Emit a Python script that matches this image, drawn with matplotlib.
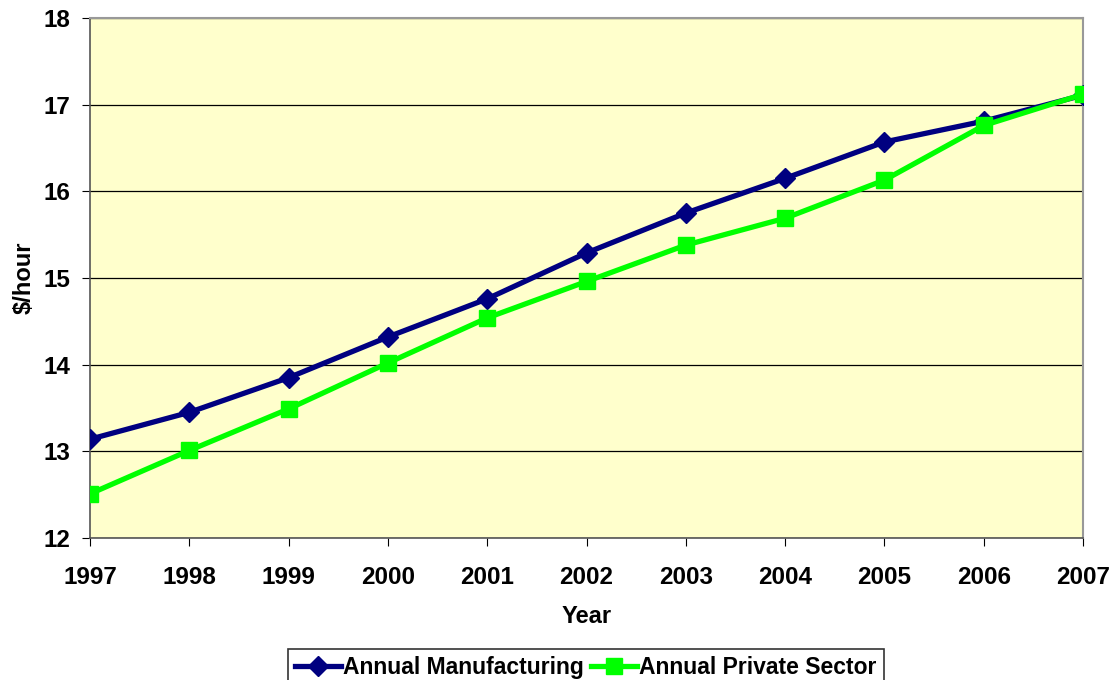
import matplotlib.pyplot as plt
import numpy as np

plt.rcParams['font.family'] = ['Liberation Sans', 'DejaVu Sans']
plt.rcParams['font.weight'] = 'bold'

years = [1997, 1998, 1999, 2000, 2001, 2002, 2003, 2004, 2005, 2006, 2007]
manufacturing = [13.14, 13.45, 13.85, 14.32, 14.76, 15.29, 15.75, 16.15, 16.57, 16.81, 17.11]
private_sector = [12.51, 13.01, 13.49, 14.02, 14.54, 14.96, 15.38, 15.69, 16.13, 16.76, 17.12]

fig = plt.figure(figsize=(11.14, 6.8), dpi=100)
ax = fig.add_axes([0.0808, 0.2088, 0.8914, 0.7647])
ax.set_facecolor('#FFFFCC')

ax.plot(years, manufacturing, color='#000080', linewidth=3.8, marker='D',
        markersize=10, label='Annual Manufacturing', zorder=3)
ax.plot(years, private_sector, color='#00FF00', linewidth=3.8, marker='s',
        markersize=12, label='Annual Private Sector', zorder=4)

ax.set_xlim(1997, 2007)
ax.set_ylim(12, 18)
ax.set_yticks(np.arange(12, 19, 1))
ax.set_xticks(years)
ax.yaxis.grid(True, color='black', linewidth=0.9)
ax.set_axisbelow(True)

for s in ['top', 'right']:
    ax.spines[s].set_color('#999999')
    ax.spines[s].set_linewidth(1.5)
for s in ['left', 'bottom']:
    ax.spines[s].set_color('#555555')
    ax.spines[s].set_linewidth(1.2)

ax.tick_params(axis='both', labelsize=17.5, length=6, direction='out', color='black')
ax.tick_params(axis='x', pad=14)
ax.tick_params(axis='y', pad=8)
for lab in ax.get_xticklabels() + ax.get_yticklabels():
    lab.set_fontweight('bold')

ax.set_xlabel('Year', fontsize=17, fontweight='bold', labelpad=12)
ax.set_ylabel('$/hour', fontsize=17, fontweight='bold', labelpad=6)

leg = fig.legend(loc='lower center', bbox_to_anchor=(0.526, -0.025), ncol=2,
                 frameon=True, fancybox=False, edgecolor='black',
                 prop={'size': 16.5, 'weight': 'bold'}, handlelength=2.0,
                 handletextpad=0.1, columnspacing=0.3, borderpad=0.3)
leg.get_frame().set_linewidth(1.2)

fig.savefig('out.png', dpi=100)
